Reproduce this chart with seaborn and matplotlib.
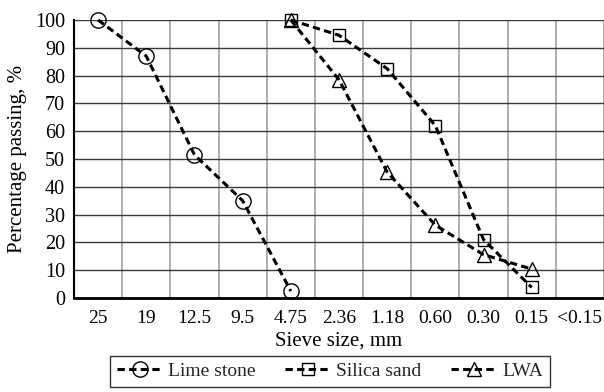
import numpy as np
import pandas as pd
import matplotlib
matplotlib.use('Agg')
import matplotlib.pyplot as plt
import seaborn as sns

# Data
sieve = ['25', '19', '12.5', '9.5', '4.75', '2.36', '1.18', '0.60', '0.30', '0.15', '<0.15']
lime_sizes = ['25', '19', '12.5', '9.5', '4.75']
lime_pass = [100, 87, 51.5, 35, 2.5]
sand_sizes = ['4.75', '2.36', '1.18', '0.60', '0.30', '0.15']
sand_pass = [100, 94.5, 82.5, 62, 21, 3.8]
lwa_sizes = ['4.75', '2.36', '1.18', '0.60', '0.30', '0.15']
lwa_pass = [100, 78.5, 45.3, 26.2, 15.6, 10.4]

sns.set_style('white')
plt.rcParams['font.family'] = ['Liberation Serif', 'DejaVu Serif']

fig = plt.figure(figsize=(6.04, 3.92), dpi=100)
ax = fig.add_axes([0.1225, 0.2398, 0.8775, 0.7092])

series = [
    ('Lime stone', lime_sizes, lime_pass, 'o', 11),
    ('Silica sand', sand_sizes, sand_pass, 's', 8.5),
    ('LWA', lwa_sizes, lwa_pass, '^', 10),
]
for name, xs, ys, mk, ms in series:
    sns.pointplot(x=xs, y=ys, order=sieve, color='black', linestyle='--',
                  marker=mk, markersize=ms, markerfacecolor='none',
                  markeredgewidth=1.0, linewidth=2.2, label=name, ax=ax)

for ln in ax.lines:
    ln.set_dashes([2.4, 1.4])
    ln.set_clip_on(False)

ax.set_xlim(-0.5, len(sieve) - 0.5)
ax.set_ylim(0, 100)
ax.set_yticks(np.arange(0, 101, 10))
ax.set_xticks(range(len(sieve)))
ax.set_xticklabels(sieve)
ax.set_xticks(np.arange(-0.5, len(sieve), 1.0), minor=True)

ax.grid(False)
ax.yaxis.grid(True, color='#3a3a3a', linewidth=1.0)
ax.xaxis.grid(True, which='minor', color='#a8a8a8', linewidth=1.3)
ax.set_axisbelow(True)

ax.tick_params(axis='x', which='major', length=0, labelsize=14, pad=9, colors='black')
ax.tick_params(axis='x', which='minor', length=5, width=1.2, direction='out', color='black')
ax.tick_params(axis='y', length=5, width=1.2, direction='out', labelsize=14.5, pad=1.5, color='black')
for lbl in ax.get_xticklabels() + ax.get_yticklabels():
    lbl.set_color('black')

for s in ['top', 'right']:
    ax.spines[s].set_visible(False)
ax.spines['left'].set_color('black')
ax.spines['left'].set_linewidth(1.5)
ax.spines['bottom'].set_color('black')
ax.spines['bottom'].set_linewidth(2.0)

ax.set_xlabel('Sieve size, mm', fontsize=15, labelpad=3, color='black')
ax.set_ylabel('Percentage passing, %', fontsize=15, labelpad=6, color='black')

leg = ax.legend(loc='lower center', bbox_to_anchor=(0.546, -0.012), bbox_transform=fig.transFigure,
                ncol=3, frameon=True, fancybox=False, fontsize=14, handlelength=2.4,
                handletextpad=0.25, columnspacing=1.5, borderpad=0.35)
leg.get_frame().set_edgecolor('black')
leg.get_frame().set_linewidth(1.0)

fig.savefig('out.png', dpi=100)
